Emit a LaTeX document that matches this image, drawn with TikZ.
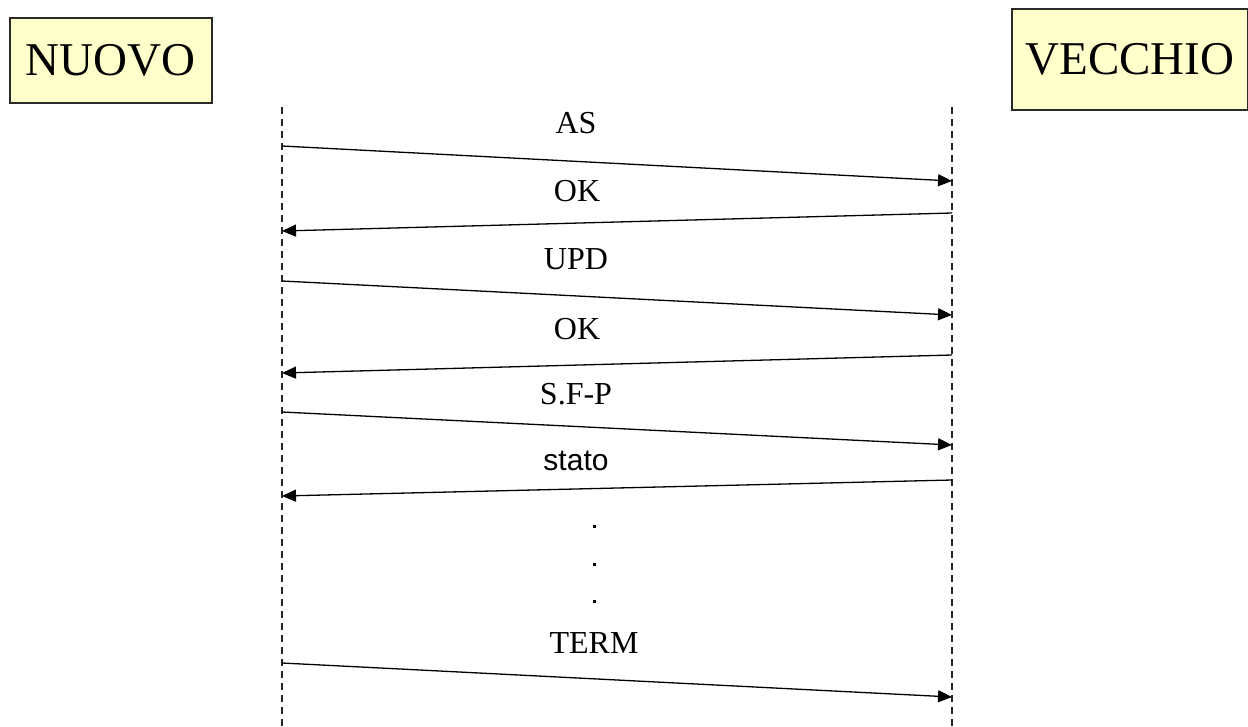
\documentclass[tikz,border=0pt]{standalone}
\usepackage{fontspec}
\setmainfont{Liberation Serif}
\newfontfamily\labelsans{Liberation Sans}
\usetikzlibrary{arrows.meta}
\definecolor{boxfill}{HTML}{FFFFCC}
\definecolor{boxline}{HTML}{2A2A2A}
\tikzset{
  actor/.style={draw=boxline, line width=1.6pt, fill=boxfill, inner sep=0pt,
    font=\fontsize{47}{50}\selectfont, anchor=north west},
  lifeline/.style={line width=1.5pt, dash pattern=on 7pt off 5pt, black!85},
  msg/.style={line width=1.3pt, -{Triangle[length=14pt,width=12pt]}},
  msglabel/.style={font=\fontsize{32}{36}\selectfont, anchor=base, inner sep=0pt},
  dotmark/.style={fill=black, minimum size=3pt, inner sep=0pt}
}
\begin{document}
\begin{tikzpicture}[x=1pt,y=-1pt]
\useasboundingbox (0,0) rectangle (1248,726);

% participants
\node[actor, minimum width=202pt, minimum height=85pt] (nuovo) at (9,17) {NUOVO};
\node[actor, minimum width=236pt, minimum height=101pt] (vecchio) at (1011,8) {VECCHIO};

% lifelines
\coordinate (ltop) at (282,107);
\coordinate (lbot) at (282,726);
\coordinate (rtop) at (952,107);
\coordinate (rbot) at (952,726);
\draw[lifeline] (ltop) -- (lbot);
\draw[lifeline] (rtop) -- (rbot);

% message end points
\coordinate (a1) at (282,146); \coordinate (b1) at (952,181);
\coordinate (b2) at (952,213); \coordinate (a2) at (282,231);
\coordinate (a3) at (282,281); \coordinate (b3) at (952,315);
\coordinate (b4) at (952,355); \coordinate (a4) at (282,373);
\coordinate (a5) at (282,412); \coordinate (b5) at (952,445);
\coordinate (b6) at (952,480); \coordinate (a6) at (282,496);
\coordinate (a7) at (282,663); \coordinate (b7) at (952,697);

\draw[msg] (a1) -- (b1);
\draw[msg] (b2) -- (a2);
\draw[msg] (a3) -- (b3);
\draw[msg] (b4) -- (a4);
\draw[msg] (a5) -- (b5);
\draw[msg] (b6) -- (a6);
\draw[msg] (a7) -- (b7);

% message labels
\node[msglabel] (lAS)   at (576,133) {AS};
\node[msglabel] (lOK1)  at (577,201) {OK};
\node[msglabel] (lUPD)  at (576,269) {UPD};
\node[msglabel] (lOK2)  at (577,339) {OK};
\node[msglabel] (lSFP)  at (576,404) {S.F-P};
\node[msglabel, font=\labelsans\fontsize{30}{34}\selectfont] (lstato) at (576,470) {stato};
\node[msglabel] (lTERM) at (594,653) {TERM};

% ellipsis
\node[dotmark] (d1) at (594,526) {};
\node[dotmark] (d2) at (594,564) {};
\node[dotmark] (d3) at (594,601) {};
\end{tikzpicture}
\end{document}
